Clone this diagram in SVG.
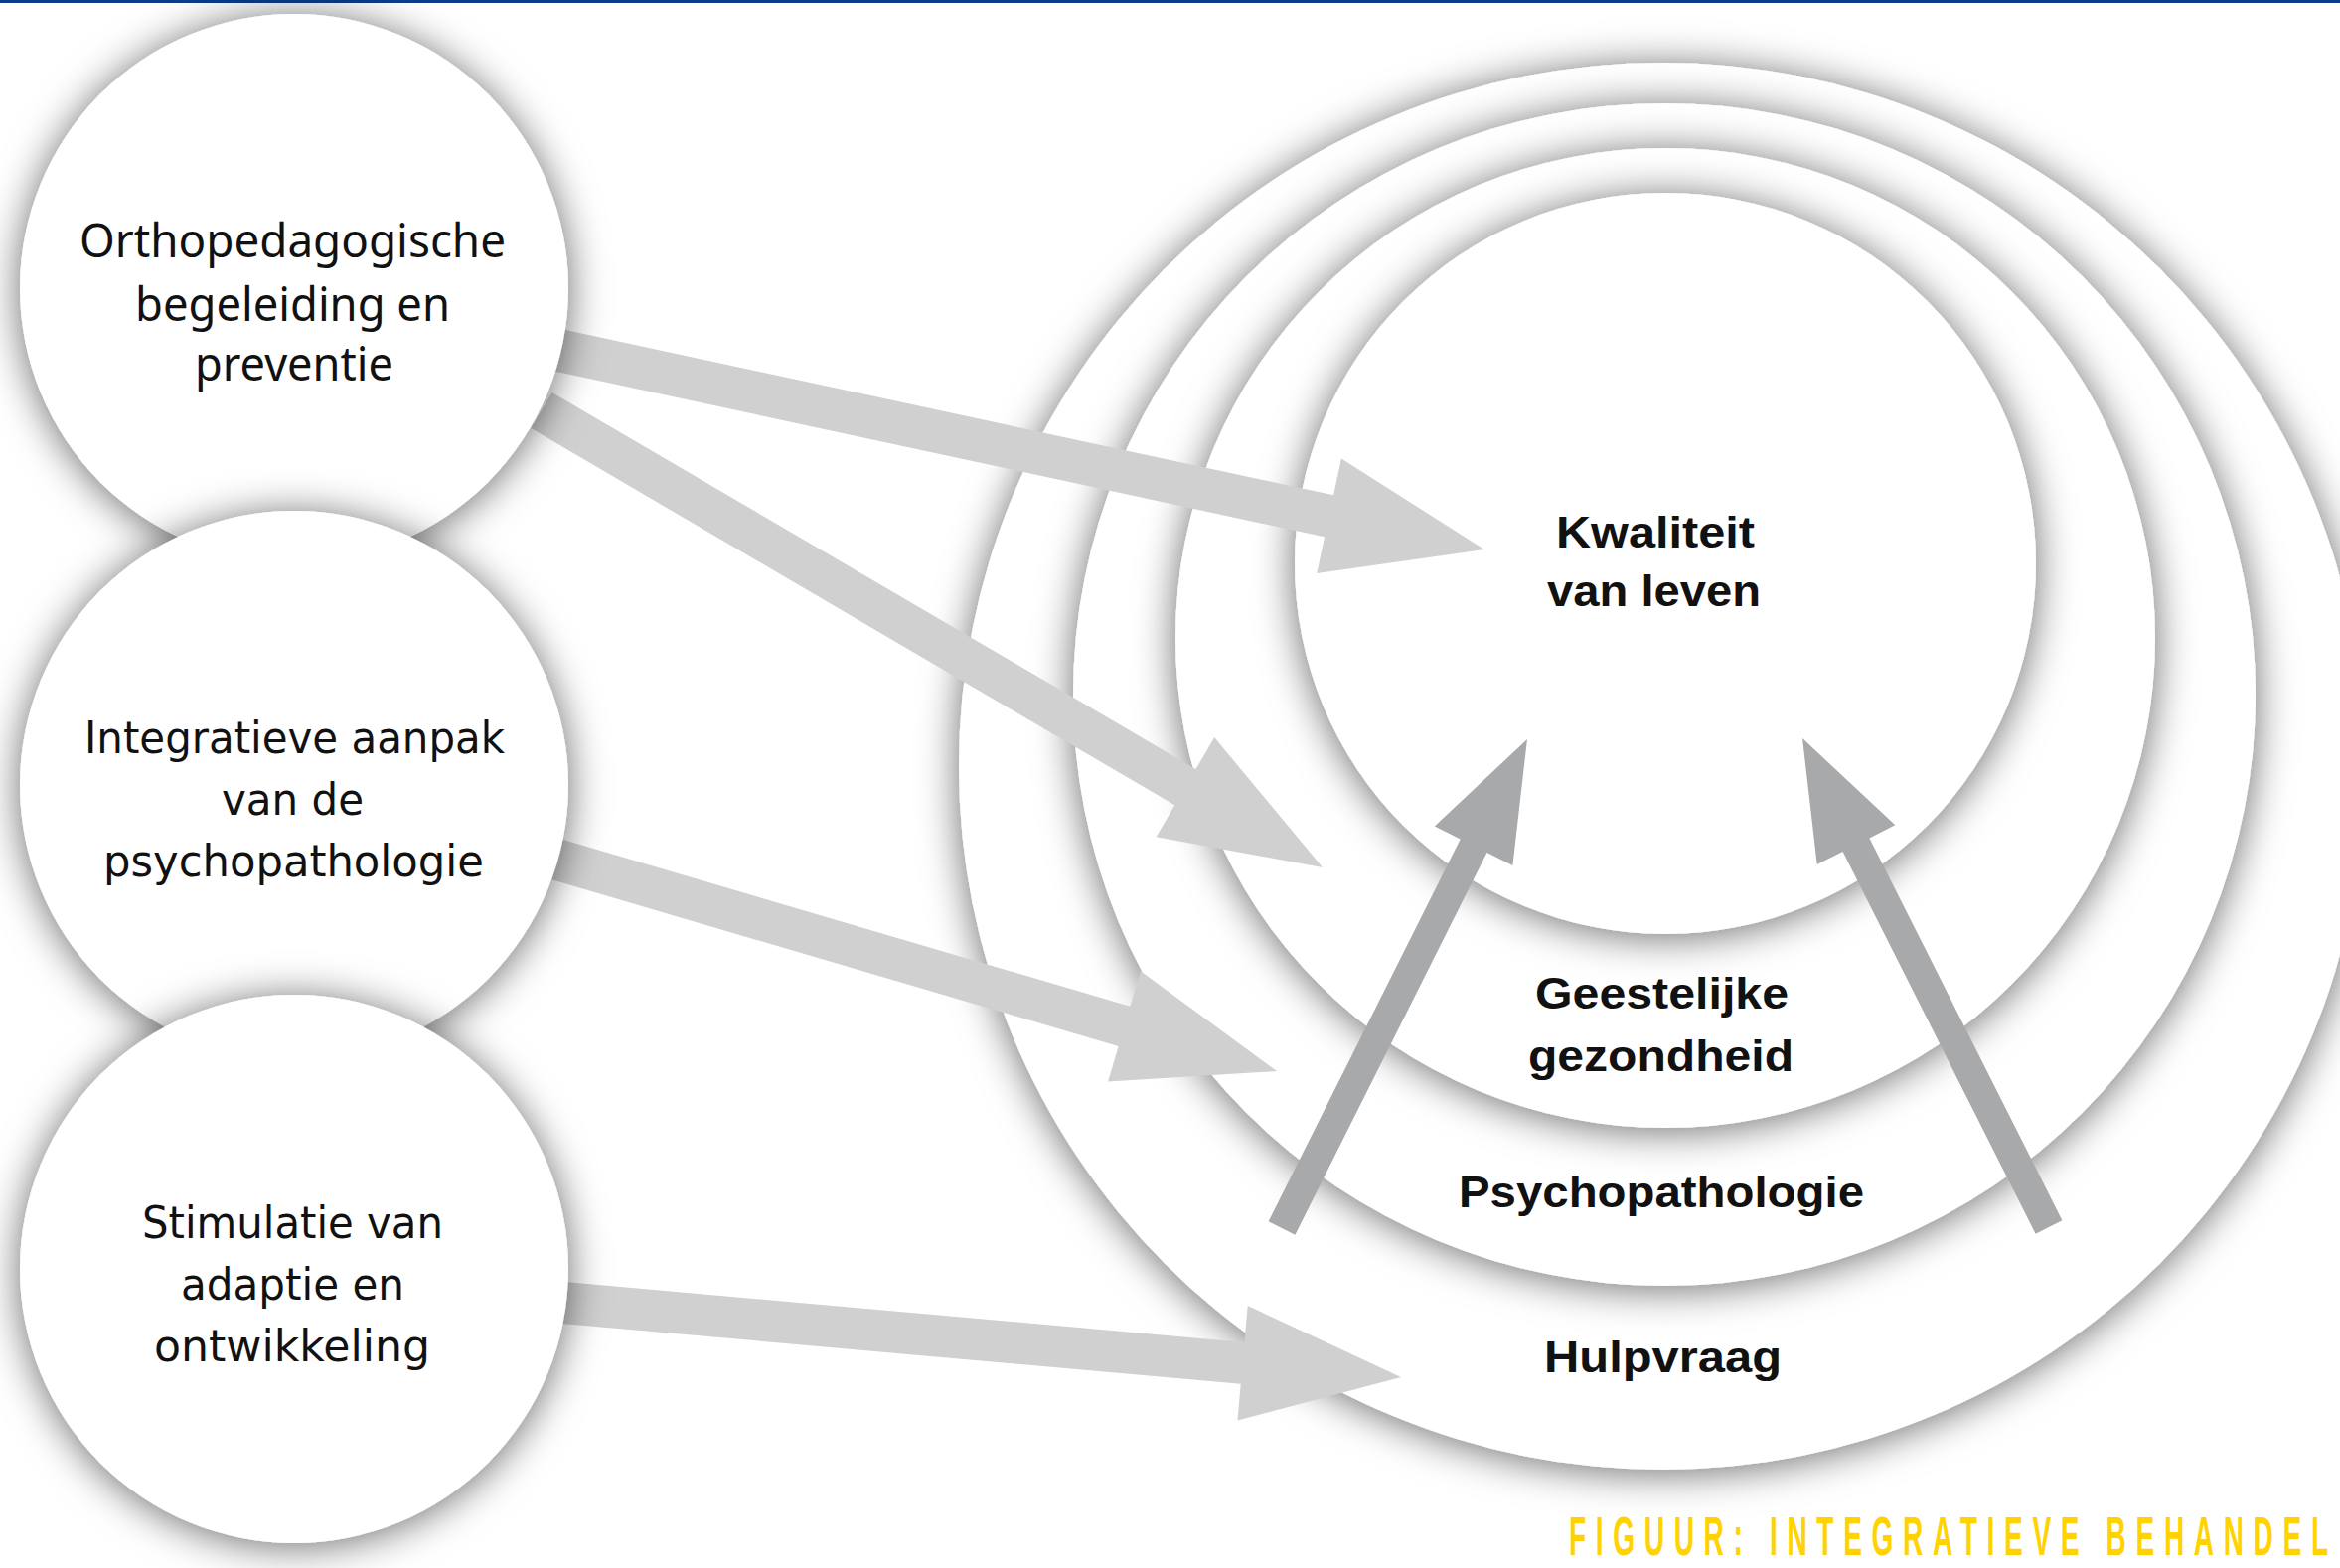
<svg xmlns="http://www.w3.org/2000/svg" width="2355" height="1578" viewBox="0 0 2355 1578">
  <defs>
    <filter id="sh" x="-20%" y="-20%" width="140%" height="140%">
      <feDropShadow dx="0" dy="3" stdDeviation="20" flood-color="#000" flood-opacity="0.58"/>
    </filter>
    <style>
      .disc { fill: #ffffff; filter: url(#sh); }
      .lt { font-family: "Noto Sans", "Liberation Sans", sans-serif; font-size: 48px; fill: #111; text-anchor: middle; }
      .lw { font-family: "DejaVu Sans", "Liberation Sans", sans-serif; font-size: 44px; fill: #111; text-anchor: middle; }
      .rt { font-family: "Liberation Sans", Arial, sans-serif; font-weight: bold; font-size: 45px; fill: #111; text-anchor: middle; }
      .al { fill: #d0d0d0; }
      .ad { fill: #a8a9ab; }
      .cap { font-family: "Liberation Sans", Arial, sans-serif; font-weight: bold; font-size: 56px; fill: #ffd200; }
    </style>
  </defs>

  <rect x="0" y="0" width="2355" height="1578" fill="#ffffff"/>
  <rect x="0" y="0" width="2355" height="3" fill="#0a3d8c"/>

  <!-- concentric rings -->
  <g id="ring-hulpvraag">
    <circle class="disc" cx="1673" cy="771" r="708"/>
    <text class="rt" x="1673.5" y="1381" textLength="239" lengthAdjust="spacingAndGlyphs">Hulpvraag</text>
  </g>
  <g id="ring-psychopathologie">
    <circle class="disc" cx="1675" cy="699" r="595"/>
    <text class="rt" x="1672" y="1215" textLength="408" lengthAdjust="spacingAndGlyphs">Psychopathologie</text>
  </g>
  <g id="ring-geestelijke-gezondheid">
    <circle class="disc" cx="1676" cy="642" r="493"/>
    <text class="rt" x="1672.5" y="1015" textLength="255" lengthAdjust="spacingAndGlyphs">Geestelijke</text>
    <text class="rt" x="1671.5" y="1078" textLength="267" lengthAdjust="spacingAndGlyphs">gezondheid</text>
  </g>
  <g id="ring-kwaliteit">
    <circle class="disc" cx="1676" cy="567" r="373"/>
    <text class="rt" x="1666" y="551" textLength="200" lengthAdjust="spacingAndGlyphs">Kwaliteit</text>
    <text class="rt" x="1664.5" y="610" textLength="215" lengthAdjust="spacingAndGlyphs">van leven</text>
  </g>

  <!-- connectors -->
  <g id="connectors">
    <polygon class="al" points="564.5,331 1342.1,498.3 1350,461.6 1494,553 1325.2,577 1333.1,540.3 555.5,373"/>
    <polygon class="al" points="555.6,394.9 1203.5,774.1 1222.2,742.1 1331,873 1163.6,842.3 1182.3,810.3 534.4,431.1"/>
    <polygon class="al" points="550.9,840.3 1137.4,1012.8 1147.9,977.3 1285,1078 1115.1,1088.5 1125.6,1053 539.1,880.5"/>
    <polygon class="al" points="551.9,1288.6 1252.5,1350.9 1255.7,1314 1410,1386 1245.5,1429.6 1248.7,1392.7 548.1,1330.4"/>
    <polygon class="ad" points="1276.6,1229.3 1469.7,844.5 1443.8,831.4 1537,744 1522.4,871 1496.5,857.9 1303.4,1242.7"/>
    <polygon class="ad" points="2075.4,1228.2 1881.4,843.4 1907.3,830.3 1814,743 1828.7,869.9 1854.6,856.9 2048.6,1241.8"/>
  </g>

  <!-- left nodes -->
  <g id="node-orthopedagogische">
    <circle class="disc" cx="296" cy="290" r="276"/>
    <text class="lt" x="294.5" y="259" textLength="429" lengthAdjust="spacingAndGlyphs">Orthopedagogische</text>
    <text class="lt" x="294.5" y="323" textLength="317" lengthAdjust="spacingAndGlyphs">begeleiding en</text>
    <text class="lt" x="296" y="383" textLength="200" lengthAdjust="spacingAndGlyphs">preventie</text>
  </g>
  <g id="node-integratieve">
    <circle class="disc" cx="296" cy="790" r="276"/>
    <text class="lw" x="296.5" y="758" textLength="423" lengthAdjust="spacingAndGlyphs">Integratieve aanpak</text>
    <text class="lw" x="294.5" y="820" textLength="143" lengthAdjust="spacingAndGlyphs">van de</text>
    <text class="lw" x="295.5" y="882" textLength="383" lengthAdjust="spacingAndGlyphs">psychopathologie</text>
  </g>
  <g id="node-stimulatie">
    <circle class="disc" cx="296" cy="1277" r="276"/>
    <text class="lw" x="294.5" y="1246" textLength="303" lengthAdjust="spacingAndGlyphs">Stimulatie van</text>
    <text class="lw" x="294.5" y="1308" textLength="225" lengthAdjust="spacingAndGlyphs">adaptie en</text>
    <text class="lw" x="294" y="1370" textLength="278" lengthAdjust="spacingAndGlyphs">ontwikkeling</text>
  </g>

  <!-- caption -->
  <g transform="scale(0.5,1)">
    <text class="cap" x="3158" y="1565" textLength="1528" lengthAdjust="spacing">FIGUUR: INTEGRATIEVE BEHANDEL</text>
  </g>
</svg>
